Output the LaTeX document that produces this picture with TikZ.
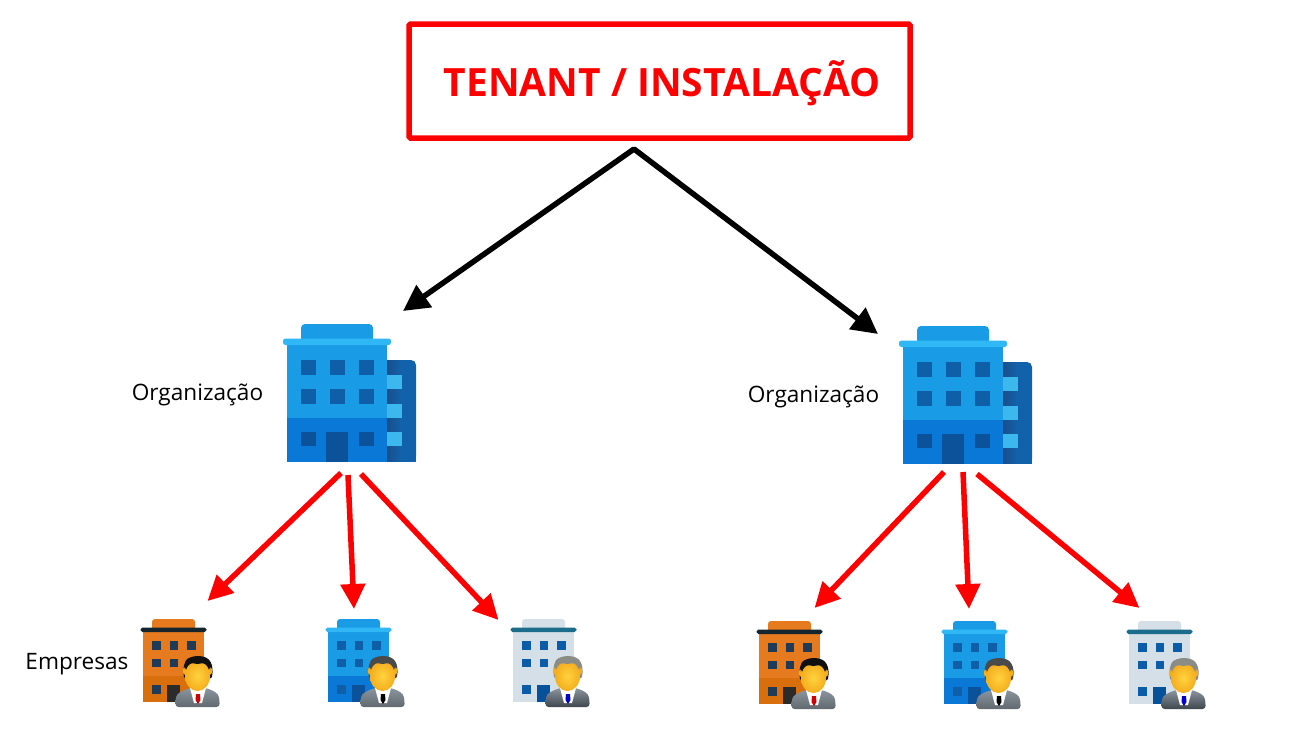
\documentclass[tikz,border=0pt]{standalone}
\usepackage{fontspec}
\setmainfont{Open Sans}
\usetikzlibrary{arrows.meta}
\definecolor{tred}{HTML}{FF0000}
\definecolor{bcap}{HTML}{1A9BE6}
\definecolor{bledge}{HTML}{2FB8F5}
\definecolor{blow}{HTML}{0A78D7}
\definecolor{bwin}{HTML}{0F5FA8}
\definecolor{bdoor}{HTML}{0B529B}
\definecolor{bside}{HTML}{1262AB}
\definecolor{bsidedk}{HTML}{1A4F8A}
\definecolor{bsw}{HTML}{3CB8EE}
\definecolor{ocap}{HTML}{E57A1E}
\definecolor{olow}{HTML}{D96E0C}
\definecolor{owin}{HTML}{1F3B57}
\definecolor{odoor}{HTML}{2B2B2B}
\definecolor{oledge}{HTML}{14252E}
\definecolor{gcap}{HTML}{D5DFE7}
\definecolor{gledge}{HTML}{1C6C8C}
\definecolor{gwin}{HTML}{0B5CA8}
\definecolor{gdoor}{HTML}{07509A}
\definecolor{hairk}{HTML}{101010}
\definecolor{hairg}{HTML}{4A4A4A}
\definecolor{hairs}{HTML}{8C8C86}
\definecolor{facey}{HTML}{FFD23F}
\definecolor{facedk}{HTML}{F4AE1E}
\definecolor{suitg}{HTML}{8B959E}
\definecolor{suitd}{HTML}{3F464E}
\tikzset{
  blackarrow/.style={draw=black,line width=5.5pt,line join=round,{Triangle[length=26pt,width=26pt]}-{Triangle[length=26pt,width=26pt]}},
  redarrow/.style={draw=tred,line width=5.5pt,-{Triangle[length=25pt,width=24pt]}},
  titlebox/.style={draw=tred,line width=5.5pt,fill=white,rounded corners=1.5pt,minimum width=501pt,minimum height=114pt,inner sep=0pt},
  titletext/.style={text=tred,inner sep=0pt,font=\fontsize{39}{43}\selectfont\bfseries},
  lbl/.style={text=black,inner sep=0pt,font=\fontsize{22.6}{26}\selectfont}
}
\newcommand{\bigbldg}[2]{%
\begin{scope}[shift={(#1,#2)}]
  \fill[bcap,rounded corners=4pt] (31,32)--(31,14)--(103,14)--(103,32)--cycle;
  \fill[bside,rounded corners=5pt] (117,151.5)--(117,50)--(146,50)--(146,151.5)--cycle;
  \fill[bside] (120,100) rectangle (146,151.5);
  \shade[left color=bsidedk,right color=bside] (117,50) rectangle (131,151.5);
  \foreach \yy in {65,94,122} \fill[bsw] (117,\yy) rectangle (132,\yy+14);
  \fill[bcap] (17,33) rectangle (117,108);
  \fill[blow] (17,108) rectangle (117,151.5);
  \fill[bledge,rounded corners=2.5pt] (13,28.5) rectangle (121,35);
  \foreach \xx in {31,60,89} \foreach \yy in {50,79} \fill[bwin] (\xx,\yy) rectangle (\xx+14.5,\yy+14.5);
  \fill[bdoor] (31,122) rectangle (45.5,136);
  \fill[bdoor] (89,122) rectangle (103.5,136);
  \fill[bdoor] (56,122) rectangle (78,151.5);
\end{scope}}
% x y cap ledge body lower win door hair
\newcommand{\smallbldg}[9]{%
\begin{scope}[shift={(#1,#2)}]
  \fill[#3,rounded corners=3pt] (22,21)--(22,9)--(65,9)--(65,21)--cycle;
  \fill[#5] (13,20) rectangle (73.5,66);
  \fill[#6] (13,66) rectangle (73.5,92);
  \fill[#4,rounded corners=1.8pt] (10.5,17.5) rectangle (76.5,22);
  \foreach \xx in {22,39.5,57} \fill[#7] (\xx,31) rectangle (\xx+8.5,39.5);
  \foreach \xx in {22,39.5} \fill[#7] (\xx,48.5) rectangle (\xx+8.5,57);
  \fill[#7] (22,75) rectangle (30.5,83.5);
  \fill[#8] (37,75) rectangle (50,92);
  \smallperson{#9}
\end{scope}}
\newcommand{\smallperson}[1]{%
  \colorlet{hairc}{#1}%
  \shade[top color=suitg,bottom color=\suitbot,rounded corners=3pt] (45.5,97)--(45.5,90) .. controls (47,83) and (52,81) .. (60,78)--(76,78) .. controls (84,81) and (88,83) .. (89.5,90)--(89.5,97)--cycle;
  \fill[white] (60,78)--(76,78)--(72,93)--(64,93)--cycle;
  \fill[\tiecol] (66,84)--(70,84)--(70.5,90)--(68,94)--(65.5,90)--cycle;
  \fill[hairc] (54,67) .. controls (52,55) and (55,46) .. (68,46) .. controls (81,46) and (84,55) .. (82,67)--(78,70)--(58,70)--cycle;
  \fill[facedk] (54.5,61) ellipse (1.6 and 3.5);
  \fill[facedk] (80.5,61) ellipse (1.6 and 3.5);
  \shade[inner color=facey,outer color=facedk] (67.5,66) ellipse (12.5 and 15);
  \fill[hairc] (55,60) .. controls (56,53) and (60,52.5) .. (67.5,54) .. controls (75,52.5) and (79,53) .. (80,60) .. controls (82,47) and (75,47) .. (67.5,47) .. controls (60,47) and (53,47) .. (55,60)--cycle;
}
\newcommand{\orangeb}[2]{\def\tiecol{red!80!black}\def\suitbot{suitg!70!black}\smallbldg{#1}{#2}{ocap}{oledge}{ocap}{olow}{owin}{odoor}{hairk}}
\newcommand{\blueb}[2]{\def\tiecol{black}\def\suitbot{suitg!70!black}\smallbldg{#1}{#2}{bcap}{bledge}{bcap}{blow}{bwin}{bdoor}{hairg}}
\newcommand{\greyb}[2]{\def\tiecol{blue!80!black}\def\suitbot{suitd}\smallbldg{#1}{#2}{gcap}{gledge}{gcap}{gcap}{gwin}{gdoor}{hairs}}
\begin{document}
\begin{tikzpicture}[x=1pt,y=-1pt]
\useasboundingbox (0,0) rectangle (1292,745);
\fill[white] (0,0) rectangle (1292,745);
\node[titlebox] (tenant) at (659.5,81) {};
\node[titletext] (title) at (662,83) {TENANT / INSTALAÇÃO};
\coordinate (apex) at (634,149);
\coordinate (orgLtip) at (403,311);
\coordinate (orgRtip) at (878,334);
\draw[blackarrow] (orgLtip) -- (apex) -- (orgRtip);
\bigbldg{270}{310}
\bigbldg{886}{312}
\node[lbl] (orgL) at (197.5,394.5) {Organização};
\node[lbl] (orgR) at (813.5,396.5) {Organização};
\node[lbl] (emp) at (77,664) {Empresas};
\orangeb{130}{610}
\blueb{315}{610}
\greyb{500}{610}
\orangeb{746}{612}
\blueb{931}{612}
\greyb{1116}{612}
\coordinate (a1) at (341,473); \coordinate (a1t) at (207.5,601);
\coordinate (a2) at (348,475); \coordinate (a2t) at (354,609);
\coordinate (a3) at (361,474); \coordinate (a3t) at (498.5,620);
\coordinate (b1) at (944,472); \coordinate (b1t) at (814.5,608);
\coordinate (b2) at (963,472); \coordinate (b2t) at (969,609);
\coordinate (b3) at (977,474); \coordinate (b3t) at (1139.5,608);
\foreach \p/\q in {a1/a1t,a2/a2t,a3/a3t,b1/b1t,b2/b2t,b3/b3t}
  \draw[redarrow] (\p) -- (\q);
\end{tikzpicture}
\end{document}
